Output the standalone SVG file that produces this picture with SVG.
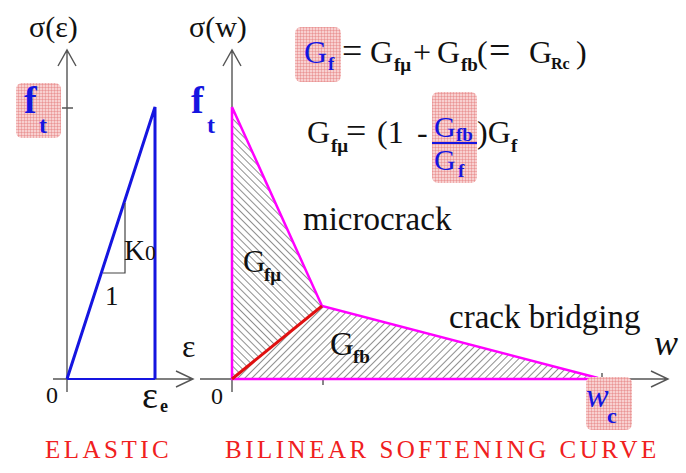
<svg xmlns="http://www.w3.org/2000/svg" width="686" height="473" viewBox="0 0 686 473">
<style>
.ser{font-family:"Liberation Serif","Times New Roman",serif;fill:#111}
.ax{stroke:#555;stroke-width:1.4;fill:none}
.blue{fill:#1515e0}
.sub{font-weight:bold}
.red{fill:#f02020;letter-spacing:3.5px;font-size:25px}
</style>
<defs>
<pattern id="hd" width="5" height="5" patternUnits="userSpaceOnUse" patternTransform="rotate(-45)">
<rect width="5" height="5" fill="#fff"/><line x1="0" y1="0" x2="0" y2="5" stroke="#222" stroke-width="1"/>
</pattern>
<pattern id="hu" width="5" height="5" patternUnits="userSpaceOnUse" patternTransform="rotate(45)">
<rect width="5" height="5" fill="#fff"/><line x1="0" y1="0" x2="0" y2="5" stroke="#222" stroke-width="1"/>
</pattern>
<pattern id="pk" width="3" height="3" patternUnits="userSpaceOnUse">
<rect width="3" height="3" fill="#f8d0d0"/><path d="M0 0H3M0 0V3" stroke="#e06a6a" stroke-width="0.7"/>
</pattern>
</defs>

<g id="elastic">
<path class="ax" d="M67 392V50M58 66L67 50L76 66M62 108H73M53 379H193M176 371L193 379L176 387"/>
<path d="M67 379H155" stroke="#1515e0" stroke-width="2" fill="none"/>
<path d="M67 379L155 107V379" stroke="#1515e0" stroke-width="3" fill="none"/>
<path d="M103 273H125V203" stroke="#444" stroke-width="1.2" fill="none"/>
<text class="ser" x="124" y="260" font-size="29">K<tspan font-size="22">0</tspan></text>
<text class="ser" x="105" y="305" font-size="27">1</text>
<text class="ser" x="29" y="37" font-size="30">σ(ε)</text>
<text class="ser" x="182" y="357" font-size="32">ε</text>
<text class="ser" x="46" y="403" font-size="24">0</text>
<text class="ser" x="142" y="408" font-size="38">ε</text>
<text class="ser sub" x="160" y="412" font-size="18">e</text>
<rect x="16" y="83" width="45" height="55" rx="6" fill="url(#pk)"/>
<text class="ser blue" x="24" y="113" font-size="38" font-weight="bold">f</text>
<text class="ser blue" x="39" y="133" font-size="24" font-weight="bold">t</text>
<text class="ser red" x="45" y="458">ELASTIC</text>
</g>

<g id="softening">
<polygon points="232,107 322,306 232,379" fill="url(#hd)"/>
<polygon points="232,379 322,306 600,379" fill="url(#hu)"/>
<path class="ax" d="M232 392V50M223 66L232 50L241 66M200 379H668M651 371L668 379L651 387M323 379V385M602 373V385"/>
<path d="M232 107L322 306L598 378M232 107V379H600" stroke="#ff00ff" stroke-width="2.5" fill="none"/>
<path d="M232 379L322 306" stroke="#e01010" stroke-width="3" fill="none"/>
<text class="ser" x="189" y="37" font-size="30">σ(w)</text>
<text class="ser blue" x="191" y="113" font-size="38" font-weight="bold">f</text>
<text class="ser blue" x="207" y="133" font-size="24" font-weight="bold">t</text>
<text class="ser" x="303" y="230" font-size="33">microcrack</text>
<text class="ser" x="449" y="328" font-size="33">crack bridging</text>
<text class="ser" x="243" y="272" font-size="31">G</text>
<text class="ser sub" x="264" y="281" font-size="19">fμ</text>
<text class="ser" x="330" y="355" font-size="33">G</text>
<text class="ser sub" x="353" y="363" font-size="19">fb</text>
<text class="ser" x="654" y="355" font-size="36" font-style="italic">w</text>
<text class="ser" x="211" y="404" font-size="24">0</text>
<rect x="586" y="377" width="46" height="53" rx="6" fill="url(#pk)"/>
<text class="ser blue" x="586" y="407" font-size="34" font-style="italic">w</text>
<text class="ser blue sub" x="607" y="423" font-size="22">c</text>
<text class="ser red" x="225" y="458">BILINEAR SOFTENING CURVE</text>
</g>

<g id="eq1">
<rect x="295" y="27" width="46" height="55" rx="6" fill="url(#pk)"/>
<text class="ser blue" x="304" y="63" font-size="32">G</text>
<text class="ser blue sub" x="328" y="70" font-size="19">f</text>
<text class="ser" x="342" y="63" font-size="36">=</text>
<text class="ser" x="370" y="63" font-size="32">G</text>
<text class="ser sub" x="394" y="71" font-size="19">fμ</text>
<text class="ser" x="413" y="63" font-size="32">+</text>
<text class="ser" x="437" y="63" font-size="32">G</text>
<text class="ser sub" x="461" y="71" font-size="19">fb</text>
<text class="ser" x="477" y="63" font-size="32">(</text>
<text class="ser" x="489" y="63" font-size="38">=</text>
<text class="ser" x="529" y="63" font-size="32">G</text>
<text class="ser sub" x="551" y="69" font-size="16">Rc</text>
<text class="ser" x="576" y="63" font-size="32">)</text>
</g>

<g id="eq2">
<rect x="432" y="92" width="45" height="91" rx="6" fill="url(#pk)"/>
<text class="ser" x="307" y="143" font-size="32">G</text>
<text class="ser sub" x="331" y="152" font-size="19">fμ</text>
<text class="ser" x="346" y="143" font-size="36">=</text>
<text class="ser" x="377" y="143" font-size="32">(1</text>
<text class="ser" x="417" y="143" font-size="32">-</text>
<text class="ser blue" x="434" y="137" font-size="30">G</text>
<text class="ser blue sub" x="456" y="141" font-size="19">fb</text>
<path d="M432 143H477" stroke="#1515e0" stroke-width="2"/>
<text class="ser blue" x="434" y="170" font-size="30">G</text>
<text class="ser blue sub" x="458" y="177" font-size="19">f</text>
<text class="ser" x="477" y="143" font-size="32">)G</text>
<text class="ser sub" x="511" y="152" font-size="19">f</text>
</g>
</svg>
